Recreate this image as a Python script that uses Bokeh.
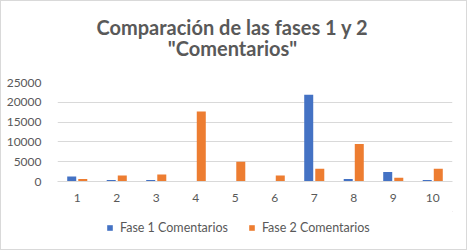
from bokeh.plotting import figure
from bokeh.layouts import column
from bokeh.models import ColumnDataSource, FactorRange, Range1d, Legend, LegendItem, Label, NumeralTickFormatter
from bokeh.transform import dodge
from bokeh.embed import file_html
from bokeh.resources import INLINE

categories = ["1", "2", "3", "4", "5", "6", "7", "8", "9", "10"]
fase1 = [1270, 350, 350, 0, 0, 0, 21900, 600, 2370, 350]
fase2 = [600, 1520, 1780, 17700, 5000, 1520, 3220, 9500, 930, 3250]
series_names = ["Fase 1 Comentarios", "Fase 2 Comentarios"]
title_lines = ["Comparación de las fases 1 y 2", "\"Comentarios\""]
yticks = [0, 5000, 10000, 15000, 20000, 25000]

FONT = "Lato"
GRAY = "#595959"
BLUE = "#4472C4"
ORANGE = "#ED7D31"
W = 465
LEFT = 56


def blank(h):
    f = figure(width=W, height=h, x_range=Range1d(0, 1), y_range=Range1d(0, 1),
               output_backend="svg", toolbar_location=None, x_axis_type=None, y_axis_type=None,
               min_border_left=LEFT, min_border_right=14, min_border_top=0, min_border_bottom=0)
    f.outline_line_color = None
    f.xgrid.visible = False
    f.ygrid.visible = False
    f.background_fill_color = "white"
    f.border_fill_color = "white"
    return f


# Title figure
tfig = blank(70)
for txt, yy in zip(title_lines, [45, 24]):
    tfig.add_layout(Label(x=231 - LEFT, y=yy, x_units="screen", y_units="screen", text=txt,
                          text_align="center", text_baseline="middle", text_font=FONT,
                          text_font_size="20px", text_font_style="bold", text_color=GRAY))

# Main chart
src = ColumnDataSource(dict(cat=categories, f1=fase1, f2=fase2))
p = figure(width=W, height=140, x_range=FactorRange(*categories), y_range=Range1d(0, 25000),
           output_backend="svg", toolbar_location=None,
           min_border_left=LEFT, min_border_right=14, min_border_top=11, min_border_bottom=30)
p.outline_line_color = None
p.background_fill_color = "white"
p.border_fill_color = "white"

p.vbar(x=dodge("cat", -0.14, range=p.x_range), top="f1", width=0.228, source=src,
       fill_color=BLUE, line_color=None)
p.vbar(x=dodge("cat", 0.14, range=p.x_range), top="f2", width=0.228, source=src,
       fill_color=ORANGE, line_color=None)

p.yaxis.ticker = yticks
p.yaxis.axis_line_color = None
p.yaxis.major_tick_line_color = None
p.yaxis.minor_tick_line_color = None
p.yaxis.major_label_text_font = FONT
p.yaxis.major_label_text_font_size = "12px"
p.yaxis.major_label_text_color = GRAY
p.yaxis.major_label_standoff = 10
p.yaxis.formatter = NumeralTickFormatter(format="0")

p.xaxis.axis_line_color = "#d9d9d9"
p.xaxis.major_tick_line_color = None
p.xaxis.minor_tick_line_color = None
p.xaxis.major_label_text_font = FONT
p.xaxis.major_label_text_font_size = "12px"
p.xaxis.major_label_text_color = GRAY
p.xaxis.major_label_standoff = 6

p.xgrid.grid_line_color = None
p.ygrid.grid_line_color = "#d9d9d9"
p.ygrid.grid_line_width = 1
p.x_range.range_padding = 0
p.x_range.group_padding = 0

# Legend figure (swatch renderers sit outside the visible range)
lfig = blank(38)
swatch = ColumnDataSource(dict(x=[5], top=[5]))
g1 = lfig.vbar(x="x", top="top", bottom=4, width=0.1, source=swatch, fill_color=BLUE, line_color=None)
g2 = lfig.vbar(x="x", top="top", bottom=4, width=0.1, source=swatch, fill_color=ORANGE, line_color=None)
legend = Legend(items=[LegendItem(label=series_names[0], renderers=[g1]),
                       LegendItem(label=series_names[1], renderers=[g2])],
                orientation="horizontal", location=(105 - LEFT, 14),
                label_text_font=FONT, label_text_font_size="12.5px", label_text_color=GRAY,
                glyph_width=7, glyph_height=7, spacing=20, label_standoff=7,
                border_line_color=None, background_fill_alpha=0, padding=2, margin=0)
lfig.add_layout(legend)

layout = column(tfig, p, lfig, spacing=0)
layout.styles = {"border": "1px solid #d9d9d9"}

open("out.html", "w").write(file_html(layout, INLINE))
